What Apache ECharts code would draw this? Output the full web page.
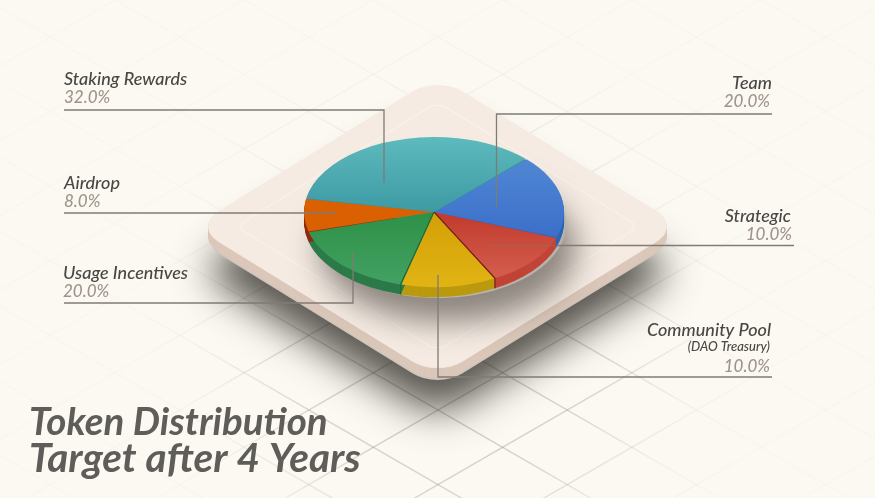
<!DOCTYPE html>
<html>
<head>
<meta charset="utf-8">
<style>
  html, body { margin: 0; padding: 0; background: #fcf9f3; }
  #main { width: 875px; height: 498px; }
</style>
<script src="https://cdn.jsdelivr.net/npm/echarts@6/dist/echarts.min.js"></script>
</head>
<body>
<div id="main"></div>
<script>
// --- data ---
var categories = ['Team', 'Strategic', 'Community Pool', 'Usage Incentives', 'Airdrop', 'Staking Rewards'];
// figures printed in the picture's labels
var shares = [20, 10, 10, 20, 8, 32];
// wedge sizes as actually drawn in the picture (they don't follow the labels exactly)
var drawnShares = [18, 11.7, 11.9, 16.6, 7.1, 34.7];
var titleLines = ['Token Distribution', 'Target after 4 Years'];

// --- slice colours ---
var faceTop = ['#5087d3', '#c23a2c', '#d2a007', '#2d9147', '#db6002', '#5dbabd'];
var faceBottom = ['#3b6fca', '#d35e4e', '#e1b313', '#43a163', '#db6002', '#3e9aa3'];
var wallColors = ['#2e64b4', '#c14437', '#bb9a0e', '#2c7a48', '#8f2a10', '#3a8d95'];
var edgeColors = [null, '#7a1f16', '#1f6a3a', null, null, null];

var myChart = echarts.init(document.getElementById('main'));

var pie = { cx: 434, cy: 212, r: 130, squash: 0.577, depth: 10, start: -44.9 };
var total = drawnShares.reduce(function (a, b) { return a + b; }, 0);

function renderSlice(params, api) {
  var i = params.dataIndex;
  var before = 0;
  for (var k = 0; k < i; k++) before += drawnShares[k];
  var a0 = (pie.start + before / total * 360) * Math.PI / 180;
  var a1 = a0 + api.value(1) / total * Math.PI * 2;
  var gap = 0.005;
  var children = [];
  for (var d = pie.depth; d > 0; d--) {
    children.push({
      type: 'sector', x: pie.cx, y: pie.cy + d, scaleY: pie.squash, z2: 1,
      shape: { cx: 0, cy: 0, r0: 0, r: pie.r, startAngle: a0, endAngle: a1 },
      style: { fill: wallColors[i] }
    });
  }
  children.push({
    type: 'sector', x: pie.cx, y: pie.cy, scaleY: pie.squash, z2: 5,
    shape: { cx: 0, cy: 0, r0: 0, r: pie.r, startAngle: a0 + gap, endAngle: a1 - gap },
    style: {
      fill: { type: 'linear', x: 0, y: 0, x2: 0, y2: 1,
        colorStops: [{ offset: 0, color: faceTop[i] }, { offset: 1, color: faceBottom[i] }] }
    }
  });
  if (edgeColors[i]) {
    // dark seam where the slice meets the next one
    var ex = pie.cx + Math.cos(a1) * pie.r;
    var ey = pie.cy + Math.sin(a1) * pie.r * pie.squash;
    children.push({
      type: 'polyline', z2: 6,
      shape: { points: [[pie.cx, pie.cy], [ex, ey], [ex, ey + pie.depth]] },
      style: { stroke: edgeColors[i], lineWidth: 1.2, fill: 'none' }
    });
  }
  return { type: 'group', children: children };
}

// floor grid, fades out away from the platform
function floorLines() {
  var out = [];
  var ox = 438, oy = 410, ux = 64.6, uy = 37.3;
  var stroke = { type: 'radial', x: 450, y: 335, r: 310, global: true,
    colorStops: [
      { offset: 0, color: 'rgba(120,115,105,0.40)' },
      { offset: 0.5, color: 'rgba(120,115,105,0.26)' },
      { offset: 0.8, color: 'rgba(150,145,135,0.08)' },
      { offset: 1, color: 'rgba(150,145,135,0.03)' }
    ] };
  for (var k = -8; k <= 8; k++) {
    out.push({ type: 'line', silent: true,
      shape: { x1: ox + k * ux - 9 * ux, y1: oy + k * uy + 9 * uy, x2: ox + k * ux + 9 * ux, y2: oy + k * uy - 9 * uy },
      style: { stroke: stroke, lineWidth: 1.5 } });
    out.push({ type: 'line', silent: true,
      shape: { x1: ox + k * ux - 9 * ux, y1: oy - k * uy - 9 * uy, x2: ox + k * ux + 9 * ux, y2: oy - k * uy + 9 * uy },
      style: { stroke: stroke, lineWidth: 1.5 } });
  }
  return out;
}

// rounded square laid flat: rotate it, then squash it
function platformPiece(dy, size, radius, style) {
  return {
    type: 'group', x: 437.5, y: 226.5 + dy, scaleY: 0.617, silent: true,
    children: [{
      type: 'rect', rotation: Math.PI / 4,
      shape: { x: -size / 2, y: -size / 2, width: size, height: size, r: radius },
      style: style
    }]
  };
}

function platform() {
  var out = [];
  out.push(platformPiece(14, 340, 35, { fill: '#cfc6bb', shadowBlur: 38, shadowOffsetY: 30, shadowColor: 'rgba(50,46,40,0.8)' }));
  for (var d = 10; d > 0; d--) {
    out.push(platformPiece(d, 345, 35, { fill: '#dbc8ba' }));
  }
  out.push(platformPiece(0, 345, 35, { fill: '#f5ebe3' }));
  out.push(platformPiece(0, 285, 12, { fill: 'none', stroke: '#f9f2ec', lineWidth: 1.5 }));
  // shadow of the pie on the platform
  out.push({ type: 'ellipse', silent: true,
    shape: { cx: 438, cy: 224, rx: 128, ry: 74 },
    style: { fill: '#b8b2aa', shadowBlur: 30, shadowOffsetX: 10, shadowOffsetY: 24, shadowColor: 'rgba(70,65,58,0.6)' } });
  return out;
}

// leader lines and their labels
var lineColor = '#7f7b75';
var nameColor = '#494744';
var pctColor = '#a0958c';
var labelFont = 'Lato';

function pct(i) { return shares[i].toFixed(1) + '%'; }

function leader(points, width, opacity) {
  return { type: 'polyline', silent: true, z: 20,
    shape: { points: points },
    style: { stroke: lineColor, lineWidth: width || 1.3, fill: 'none', opacity: opacity || 1 } };
}

function label(x, y, text, color, align, size) {
  return { type: 'text', silent: true, z: 21, x: x, y: y,
    style: { text: text, fill: color, align: align, verticalAlign: 'top',
      fontFamily: labelFont, fontStyle: 'italic', fontWeight: 500, fontSize: size || 18 } };
}

function callouts() {
  return [
    leader([[64, 110], [384, 110], [384, 183]]),
    leader([[64, 213], [336, 213]]),
    leader([[64, 303], [353, 303], [353, 252]]),
    leader([[772, 114], [496.5, 114], [496.5, 207]]),
    leader([[557, 245.5], [794, 245.5]]),
    leader([[490, 245.5], [557, 245.5]], 1.3, 0.35),
    leader([[438, 275], [438, 377], [772, 377]]),

    label(64, 70, categories[5], nameColor, 'left'),
    label(64, 89, pct(5), pctColor, 'left', 17),
    label(64, 174, categories[4], nameColor, 'left'),
    label(64, 193, pct(4), pctColor, 'left', 17),
    label(63, 264, categories[3], nameColor, 'left'),
    label(63, 283, pct(3), pctColor, 'left', 17),
    label(772, 74, categories[0], nameColor, 'right'),
    label(770, 93, pct(0), pctColor, 'right', 17),
    label(791, 207, categories[1], nameColor, 'right'),
    label(792, 226, pct(1), pctColor, 'right', 17),
    label(771, 321, categories[2], nameColor, 'right'),
    label(770, 340, '(DAO Treasury)', nameColor, 'right', 13),
    label(770, 358, pct(2), pctColor, 'right', 17)
  ];
}

myChart.setOption({
  animation: false,
  backgroundColor: '#fcf9f3',
  title: {
    text: '{a|' + titleLines[0] + '}\n{b|' + titleLines[1] + '}',
    left: 29, top: 405, padding: 0,
    textStyle: {
      rich: {
        a: { fontFamily: labelFont, fontStyle: 'italic', fontWeight: 700, fontSize: 38.5, lineHeight: 36, color: '#5f5d59' },
        b: { fontFamily: labelFont, fontStyle: 'italic', fontWeight: 700, fontSize: 40.5, lineHeight: 36, color: '#5f5d59' }
      }
    }
  },
  graphic: { elements: floorLines().concat(platform()).concat(callouts()) },
  series: [{
    type: 'custom',
    coordinateSystem: 'none',
    silent: true,
    z: 5,
    renderItem: renderSlice,
    data: categories.map(function (name, i) { return { name: name, value: [i, drawnShares[i]] }; })
  }]
});
</script>
</body>
</html>
